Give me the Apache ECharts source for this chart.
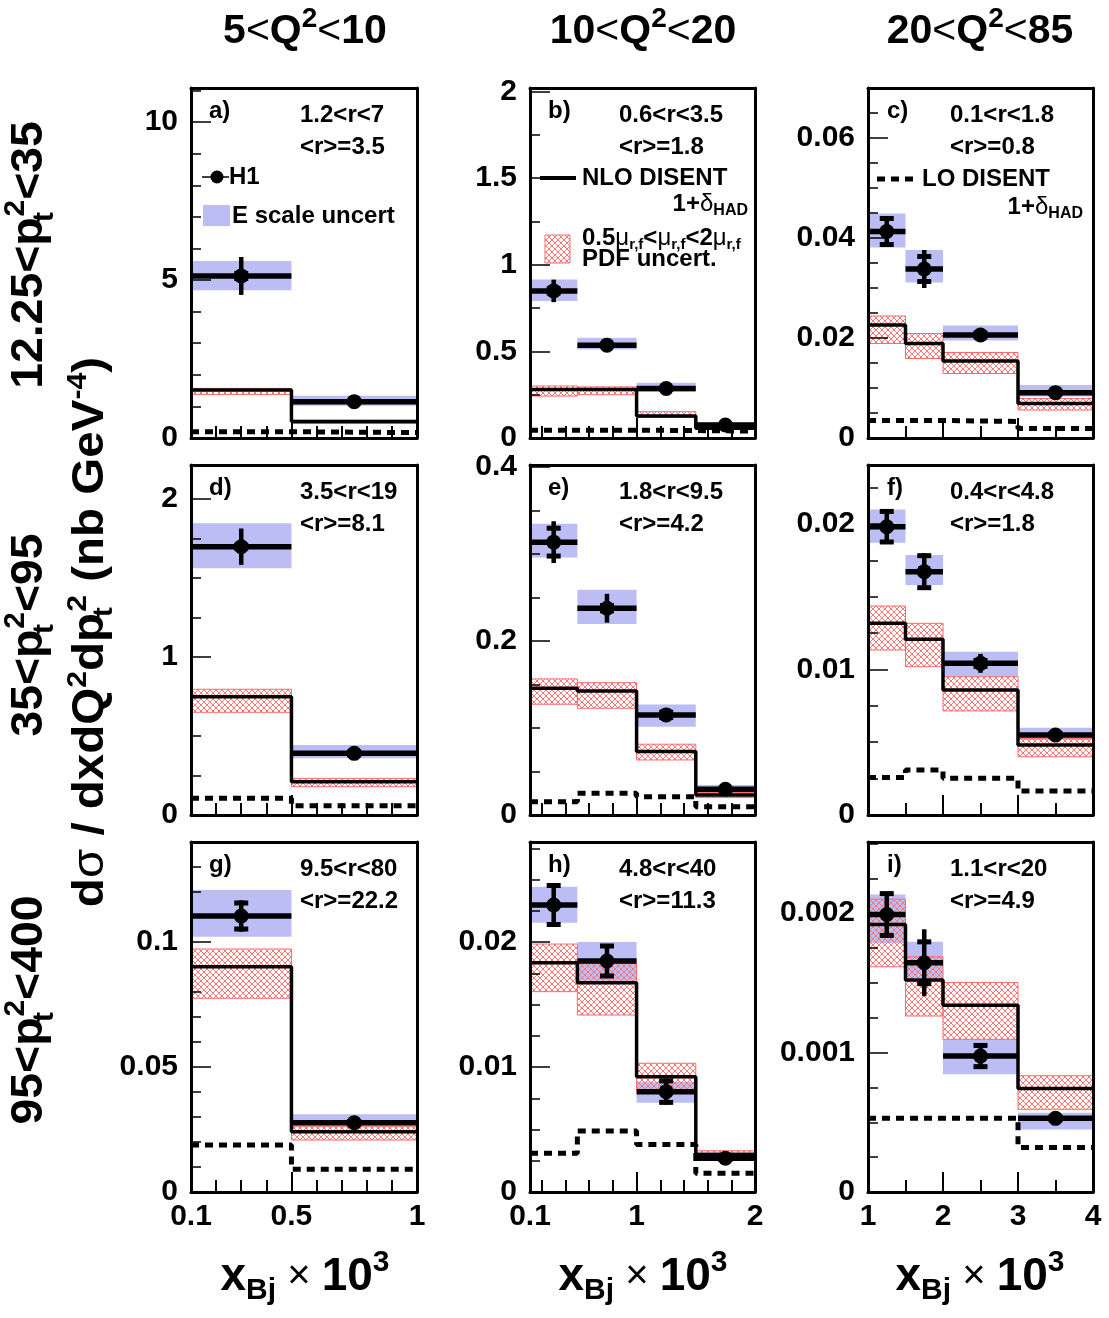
<!DOCTYPE html>
<html><head><meta charset="utf-8">
<script src="https://cdn.jsdelivr.net/npm/echarts@6/dist/echarts.min.js"></script>
<style>html,body{margin:0;padding:0;background:#fff}#c{width:1109px;height:1318px}</style>
</head><body><div id="c"></div>
<script>
// ---------- axes / binning (per column) ----------
const binEdges = [[0.1, 0.5, 1.0], [0.1, 0.5, 1.0, 1.5, 2.0], [1, 1.5, 2, 3, 4]];
const xMin = [0.1, 0.1, 1];
const xMax = [1, 2, 4];
const xLabels = [[0.1, 0.5, 1], [0.1, 1, 2], [1, 2, 3, 4]];
const xMinorTicks = [[0.2, 0.3, 0.4, 0.6, 0.7, 0.8, 0.9], [0.2, 0.4, 0.6, 0.8, 1.2, 1.4, 1.6, 1.8], [1.5, 2.5, 3.5]];
// ---------- y axes (per panel a..i) ----------
const yMax = [11.08, 2.02, 0.07, 2.215, 0.402, 0.02405, 0.14, 0.028, 0.00251];
const yLabels = [[0, 5, 10], [0, 0.5, 1, 1.5, 2], [0, 0.02, 0.04, 0.06], [0, 1, 2], [0, 0.2, 0.4], [0, 0.01, 0.02], [0, 0.05, 0.1], [0, 0.01, 0.02], [0, 0.001, 0.002]];
const yMinorStep = [1, 0.25, 0.005, 0.25, 0.05, 0.0025, 0.01, 0.0025, 0.00025];
// ---------- data (per panel a..i, per bin) ----------
const h1Value = [[5.13, 1.15], [0.849, 0.536, 0.286, 0.075], [0.0413, 0.0338, 0.0206, 0.00907],
  [1.698, 0.39], [0.3134, 0.2375, 0.115, 0.0295], [0.01981, 0.01672, 0.01042, 0.0055],
  [0.1104, 0.0277], [0.02296, 0.01848, 0.00803, 0.0027], [0.00199, 0.001644, 0.000975, 0.000528]];
const h1Stat = [[0.08, 0.02], [0.012, 0.005, 0.004, 0.002], [0.0026, 0.0025, 0.0004, 0.0002],
  [0.01, 0.01], [0.016, 0.003, 0.003, 0.001], [0.00105, 0.0011, 0.0002, 0.0001],
  [0.0052, 0.0005], [0.00156, 0.0012, 0.00086, 0.0001], [0.00015, 0.00015, 0.000076, 0.00001]];
const h1Total = [[0.6, 0.05], [0.065, 0.015, 0.012, 0.006], [0.0028, 0.0038, 0.0006, 0.0004],
  [0.115, 0.02], [0.024, 0.0165, 0.005, 0.002], [0.00115, 0.00125, 0.00065, 0.0002],
  [0.0063, 0.001], [0.00166, 0.0013, 0.00104, 0.0002], [0.000163, 0.00024, 0.00009, 0.00002]];
const escLow = [[4.68, 1.02], [0.79, 0.511, 0.267, 0.06], [0.0381, 0.0311, 0.0195, 0.0083],
  [1.561, 0.359], [0.2958, 0.2195, 0.1015, 0.023], [0.0187, 0.01581, 0.0095, 0.00515],
  [0.1021, 0.0261], [0.02155, 0.0169, 0.00715, 0.00248], [0.001783, 0.001532, 0.000844, 0.000449]];
const escHigh = [[5.6, 1.34], [0.915, 0.578, 0.319, 0.09], [0.0449, 0.0376, 0.0225, 0.0106],
  [1.846, 0.443], [0.3345, 0.2586, 0.127, 0.0345], [0.021, 0.01787, 0.01122, 0.006],
  [0.1208, 0.0311], [0.02443, 0.02, 0.00883, 0.00323], [0.002134, 0.001794, 0.001095, 0.000568]];
const nloValue = [[1.52, 0.52], [0.28, 0.28, 0.127, 0.056], [0.0226, 0.0189, 0.0154, 0.0069],
  [0.749, 0.211], [0.1456, 0.1425, 0.0728, 0.023], [0.01317, 0.01208, 0.00859, 0.00481],
  [0.0901, 0.0241], [0.01835, 0.01675, 0.00923, 0.00301], [0.001919, 0.00152, 0.00134, 0.000743]];
const nloLow = [[1.38, 0.46], [0.242, 0.25, 0.118, 0.05], [0.0189, 0.0159, 0.0129, 0.0056],
  [0.65, 0.179], [0.1272, 0.1226, 0.0632, 0.02], [0.01134, 0.01019, 0.00715, 0.004],
  [0.0775, 0.0208], [0.01603, 0.01416, 0.00816, 0.0027], [0.001615, 0.001262, 0.001095, 0.000593]];
const nloHigh = [[1.57, 0.56], [0.30, 0.295, 0.152, 0.062], [0.0244, 0.0209, 0.0171, 0.0079],
  [0.796, 0.232], [0.1563, 0.152, 0.0813, 0.026], [0.01436, 0.01317, 0.0095, 0.00527],
  [0.0972, 0.0261], [0.01984, 0.0183, 0.0103, 0.0033], [0.0021, 0.001687, 0.001503, 0.000834]];
const loValue = [[0.2, 0.17], [0.045, 0.045, 0.043, 0.04], [0.0035, 0.0035, 0.0033, 0.0019],
  [0.106, 0.059], [0.0153, 0.025, 0.021, 0.0096], [0.00257, 0.00309, 0.00252, 0.00165],
  [0.0188, 0.0091], [0.0031, 0.00488, 0.00381, 0.0015], [0.000528, 0.000528, 0.000528, 0.00032]];
// ---------- texts ----------
const panelLetters = ['a)', 'b)', 'c)', 'd)', 'e)', 'f)', 'g)', 'h)', 'i)'];
const panelRange = ['1.2<r<7', '0.6<r<3.5', '0.1<r<1.8', '3.5<r<19', '1.8<r<9.5', '0.4<r<4.8', '9.5<r<80', '4.8<r<40', '1.1<r<20'];
const panelMean = ['<r>=3.5', '<r>=1.8', '<r>=0.8', '<r>=8.1', '<r>=4.2', '<r>=1.8', '<r>=22.2', '<r>=11.3', '<r>=4.9'];
const colQ2 = [['5', '10'], ['10', '20'], ['20', '85']];
const rowPt2 = [['12.25', '35'], ['35', '95'], ['95', '400']];

// ---------- layout ----------
const FONT = "'Liberation Sans', Arial, Helvetica, sans-serif";
const gridLeft = [191, 530, 868], gridWidth = [226, 225, 225], gridTop = [88, 465, 842], gridHeight = 350;
const BLUE = '#bdbdf5';
const RED = '#ff6a6a';

function makeHatch() {
  const s = 6, cv = document.createElement('canvas');
  cv.width = s; cv.height = s;
  const g = cv.getContext('2d');
  g.strokeStyle = '#ff7575'; g.lineWidth = 1;
  g.beginPath();
  g.moveTo(-1, -1); g.lineTo(s + 1, s + 1);
  g.moveTo(s + 1, -1); g.lineTo(-1, s + 1);
  g.stroke();
  return cv;
}
const HATCH = { image: makeHatch(), repeat: 'repeat' };

function fmt(v) { return String(parseFloat(Number(v).toPrecision(6))); }
function minorTicks(step, max, majors) {
  const out = [];
  for (let k = 1; k * step <= max * 1.0001; k++) {
    const v = parseFloat((k * step).toPrecision(8));
    if (!majors.some(m => Math.abs(m - v) < step * 1e-3)) out.push(v);
  }
  return out;
}
const lineBlack = w => ({ color: '#000', width: w });

const option = { animation: false, backgroundColor: '#fff', grid: [], xAxis: [], yAxis: [], series: [], graphic: { elements: [] } };

function bandRender(fill, stroke) {
  return function (params, api) {
    const p0 = api.coord([api.value(0), api.value(3)]);
    const p1 = api.coord([api.value(1), api.value(2)]);
    return { type: 'rect', shape: { x: p0[0], y: p0[1], width: p1[0] - p0[0], height: p1[1] - p0[1] },
      style: { fill: fill, stroke: stroke || null, lineWidth: stroke ? 1 : 0 } };
  };
}
function h1Render(params, api) {
  const xlo = api.value(0), xhi = api.value(1), y = api.value(2), st = api.value(3), tot = api.value(4);
  const xc = (xlo + xhi) / 2;
  const L = api.coord([xlo, y]), R = api.coord([xhi, y]), C = api.coord([xc, y]);
  const tT = api.coord([xc, y + tot]), tB = api.coord([xc, y - tot]);
  const sT = api.coord([xc, y + st]), sB = api.coord([xc, y - st]);
  return { type: 'group', children: [
    { type: 'line', shape: { x1: L[0], y1: L[1], x2: R[0], y2: R[1] }, style: { stroke: '#000', lineWidth: 5.5 } },
    { type: 'line', shape: { x1: C[0], y1: tT[1], x2: C[0], y2: tB[1] }, style: { stroke: '#000', lineWidth: 4.5 } },
    { type: 'line', shape: { x1: C[0] - 7, y1: sT[1], x2: C[0] + 7, y2: sT[1] }, style: { stroke: '#000', lineWidth: 5 } },
    { type: 'line', shape: { x1: C[0] - 7, y1: sB[1], x2: C[0] + 7, y2: sB[1] }, style: { stroke: '#000', lineWidth: 5 } },
    { type: 'circle', shape: { cx: C[0], cy: C[1], r: 7.5 }, style: { fill: '#000' } }
  ] };
}

for (let p = 0; p < 9; p++) {
  const c = p % 3, r = Math.floor(p / 3);
  option.grid.push({ left: gridLeft[c], top: gridTop[r], width: gridWidth[c], height: gridHeight });
  const xi = option.xAxis.length, yi = option.yAxis.length;
  const labelStyle = { color: '#000', fontSize: 30, fontWeight: 'bold', fontFamily: FONT };
  option.xAxis.push(
    { gridIndex: p, type: 'value', position: 'bottom', min: xMin[c], max: xMax[c], z: 10,
      axisLine: { show: true, onZero: false, lineStyle: lineBlack(3) },
      axisTick: { show: true, inside: true, length: 20, customValues: xLabels[c], lineStyle: lineBlack(2) },
      axisLabel: Object.assign({ show: r === 2, customValues: xLabels[c], formatter: fmt, margin: 10 }, labelStyle),
      splitLine: { show: false } },
    { gridIndex: p, type: 'value', position: 'bottom', min: xMin[c], max: xMax[c], z: 10,
      axisLine: { show: false, onZero: false },
      axisTick: { show: true, inside: true, length: 12, customValues: xMinorTicks[c], lineStyle: lineBlack(2) },
      axisLabel: { show: false }, splitLine: { show: false } },
    { gridIndex: p, type: 'value', position: 'top', min: xMin[c], max: xMax[c], z: 10,
      axisLine: { show: true, onZero: false, lineStyle: lineBlack(3) },
      axisTick: { show: false }, axisLabel: { show: false }, splitLine: { show: false } }
  );
  option.yAxis.push(
    { gridIndex: p, type: 'value', position: 'left', min: 0, max: yMax[p], z: 10,
      axisLine: { show: true, onZero: false, lineStyle: lineBlack(3) },
      axisTick: { show: true, inside: true, length: 20, customValues: yLabels[p], lineStyle: lineBlack(1.5) },
      axisLabel: Object.assign({ show: true, customValues: yLabels[p], formatter: fmt, margin: 13 }, labelStyle),
      splitLine: { show: false } },
    { gridIndex: p, type: 'value', position: 'left', min: 0, max: yMax[p], z: 10,
      axisLine: { show: false, onZero: false },
      axisTick: { show: true, inside: true, length: 10, customValues: minorTicks(yMinorStep[p], yMax[p], yLabels[p]), lineStyle: lineBlack(1.5) },
      axisLabel: { show: false }, splitLine: { show: false } },
    { gridIndex: p, type: 'value', position: 'right', min: 0, max: yMax[p], z: 10,
      axisLine: { show: true, onZero: false, lineStyle: lineBlack(3) },
      axisTick: { show: false }, axisLabel: { show: false }, splitLine: { show: false } }
  );
  const e = binEdges[c], nb = e.length - 1;
  const escData = [], nloBandData = [], h1Data = [], nloLine = [], loLine = [];
  for (let i = 0; i < nb; i++) {
    escData.push([e[i], e[i + 1], escLow[p][i], escHigh[p][i]]);
    nloBandData.push([e[i], e[i + 1], nloLow[p][i], nloHigh[p][i]]);
    h1Data.push([e[i], e[i + 1], h1Value[p][i], h1Stat[p][i], h1Total[p][i]]);
    nloLine.push([e[i], nloValue[p][i]]);
    loLine.push([e[i], loValue[p][i]]);
  }
  nloLine.push([e[nb], nloValue[p][nb - 1]]);
  loLine.push([e[nb], loValue[p][nb - 1]]);
  const base = { coordinateSystem: 'cartesian2d', xAxisIndex: xi, yAxisIndex: yi };
  option.series.push(
    Object.assign({ type: 'custom', name: 'E scale uncert', renderItem: bandRender(BLUE, null), data: escData, z: 2 }, base),
    Object.assign({ type: 'custom', name: 'NLO uncert', renderItem: bandRender(HATCH, RED), data: nloBandData, z: 3 }, base),
    Object.assign({ type: 'line', name: 'NLO DISENT', step: 'end', symbol: 'none', data: nloLine, z: 4,
      lineStyle: { color: '#000', width: 3.5 } }, base),
    Object.assign({ type: 'line', name: 'LO DISENT', step: 'end', symbol: 'none', data: loLine, z: 4,
      lineStyle: { color: '#000', width: 5, type: [8, 6] } }, base),
    Object.assign({ type: 'custom', name: 'H1', renderItem: h1Render, data: h1Data, z: 5 }, base)
  );
}

// ---------- texts ----------
const G = option.graphic.elements;
function txt(x, y, text, o) {
  o = o || {};
  const el = { type: 'text', x: x, y: y, z: 100, style: {
    text: text, fill: '#000', font: 'bold ' + (o.size || 24) + 'px ' + FONT,
    align: o.align || 'left', verticalAlign: 'middle', textAlign: o.align || 'left', textVerticalAlign: 'middle' } };
  if (o.rich) el.style.rich = o.rich;
  if (o.rotation) el.rotation = o.rotation;
  if (o.scaleX) el.scaleX = o.scaleX;
  G.push(el);
}
const tk = (size, weight, lh, va, extra) => Object.assign({ fontSize: size, fontWeight: weight, fontFamily: FONT, lineHeight: lh, verticalAlign: va, fill: '#000' }, extra || {});

const colX = [305, 643, 980];
const titleRich = { n: tk(41, 'bold', 54, 'middle'), l: tk(41, 'normal', 54, 'middle'), sup: tk(28, 'bold', 28, 'top') };
for (let c = 0; c < 3; c++) {
  txt(colX[c], 32, '{n|' + colQ2[c][0] + '}{l|<}{n|Q}{sup|2}{l|<}{n|' + colQ2[c][1] + '}', { align: 'center', rich: titleRich });
  txt(colX[c], 1277, '{x|x}{sub|Bj}{l| \u00d7 }{n|10}{sup|3}', { align: 'center', rich: {
    x: tk(46, 'bold', 58, 'middle'), n: tk(46, 'bold', 58, 'middle'), l: tk(40, 'normal', 58, 'middle'),
    sub: tk(30, 'bold', 30, 'bottom'), sup: tk(30, 'bold', 30, 'top') } });
}
const rowY = [255, 635, 1010];
const rowRich = { n: tk(45, 'bold', 58, 'middle'), sup: tk(29, 'bold', 29, 'top'), subw: tk(29, 'bold', 29, 'bottom', { width: 1 }) };
for (let r = 0; r < 3; r++) {
  txt(30, rowY[r], '{n|' + rowPt2[r][0] + '<p}{subw|t}{sup|2}{n|<' + rowPt2[r][1] + '}', { align: 'center', rich: rowRich, rotation: Math.PI / 2, scaleX: 1.03 });
}
txt(91, 632, '{n|d}{g|\u03c3}{n| / dxdQ}{sup|2}{n|dp}{subw|t}{sup|2}{n| (nb GeV}{sup|-4}{n|)}', { align: 'center', rotation: Math.PI / 2, scaleX: 1.08, rich: {
  n: tk(44, 'bold', 54, 'middle'), g: tk(44, 'normal', 54, 'middle'), sup: tk(28, 'bold', 28, 'top'), subw: tk(28, 'bold', 28, 'bottom', { width: 1 }) } });

const letterX = [209, 548, 887], rangeX = [300, 619, 950];
for (let p = 0; p < 9; p++) {
  const c = p % 3, r = Math.floor(p / 3);
  txt(letterX[c], 111 + 377 * r, panelLetters[p]);
  txt(rangeX[c], 115 + 377 * r, panelRange[p]);
  txt(rangeX[c], 147 + 377 * r, panelMean[p]);
}

// ---------- legends ----------
G.push({ type: 'line', z: 100, shape: { x1: 202, y1: 177, x2: 229, y2: 177 }, style: { stroke: '#000', lineWidth: 1.5 } });
G.push({ type: 'circle', z: 100, shape: { cx: 217, cy: 177, r: 6.5 }, style: { fill: '#000' } });
txt(229, 177, 'H1');
G.push({ type: 'rect', z: 100, shape: { x: 203, y: 205, width: 27, height: 21 }, style: { fill: BLUE } });
txt(232, 216, 'E scale uncert');

G.push({ type: 'line', z: 100, shape: { x1: 540, y1: 178, x2: 576, y2: 178 }, style: { stroke: '#000', lineWidth: 4 } });
txt(582, 178, 'NLO DISENT');
const hadRich = { n: tk(24, 'bold', 30, 'middle'), g: tk(24, 'normal', 30, 'middle'), sub: tk(16, 'bold', 16, 'bottom') };
txt(748, 204, '{n|1+}{g|\u03b4}{sub|HAD}', { align: 'right', rich: hadRich });
G.push({ type: 'rect', z: 100, shape: { x: 545, y: 235, width: 25, height: 28 }, style: { fill: HATCH, stroke: RED, lineWidth: 1 } });
txt(582, 238, '{n|0.5}{g|\u03bc}{sub|r,f}{n|<}{g|\u03bc}{sub|r,f}{n|<2}{g|\u03bc}{sub|r,f}', { rich: {
  n: tk(24, 'bold', 28, 'middle'), g: tk(24, 'normal', 28, 'middle'), sub: tk(15, 'bold', 15, 'bottom') } });
txt(582, 259, 'PDF uncert.');

G.push({ type: 'line', z: 100, shape: { x1: 877, y1: 179, x2: 914, y2: 179 }, style: { stroke: '#000', lineWidth: 5, lineDash: [8, 6] } });
txt(922, 179, 'LO DISENT');
txt(1083, 207, '{n|1+}{g|\u03b4}{sub|HAD}', { align: 'right', rich: hadRich });

const chart = echarts.init(document.getElementById('c'), null, { renderer: 'canvas' });
chart.setOption(option);
</script>
</body></html>
